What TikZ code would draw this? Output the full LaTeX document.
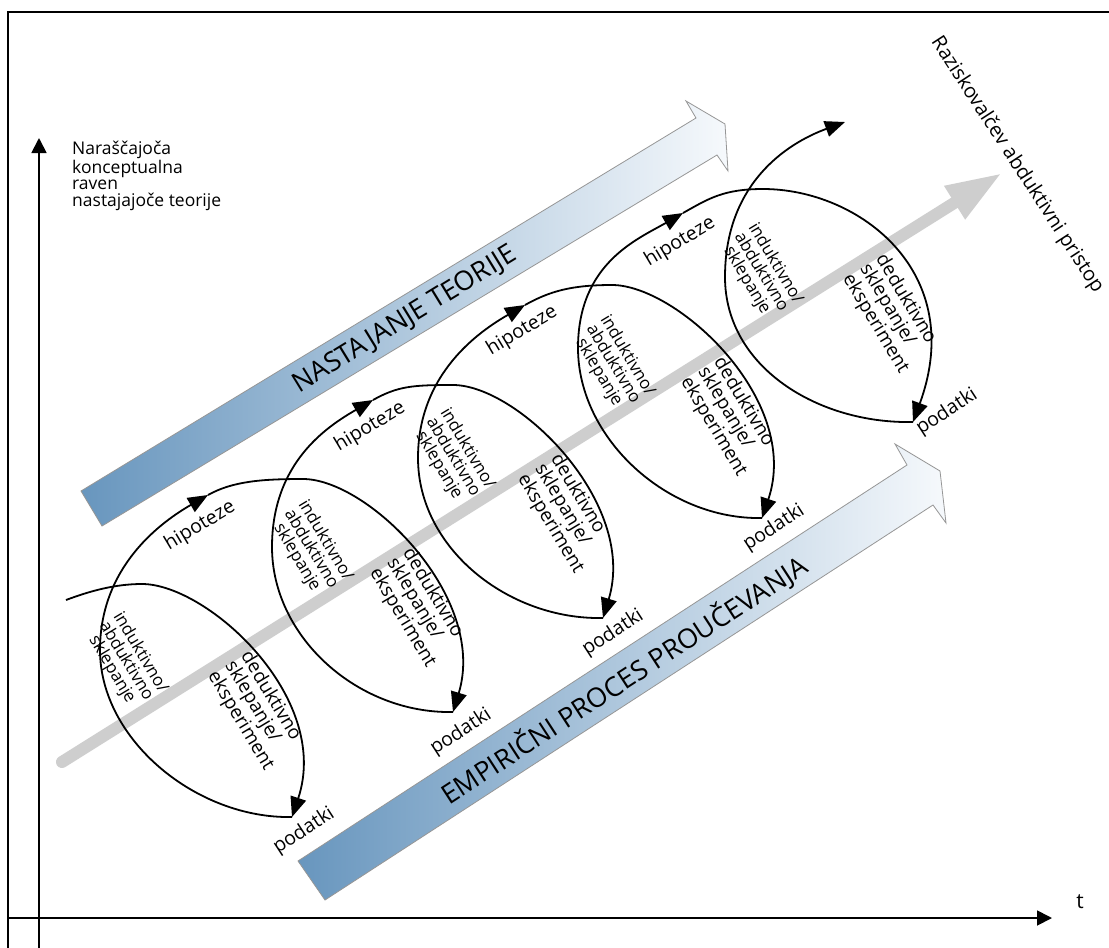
\documentclass[tikz,border=0pt]{standalone}
\usepackage{fontspec}
\setmainfont{Open Sans}
\usetikzlibrary{arrows.meta,calc}
\definecolor{bandblue}{RGB}{104,150,190}
\definecolor{bandlight}{RGB}{246,249,252}
\definecolor{bandedge}{RGB}{150,150,150}
\definecolor{spinegray}{RGB}{206,206,206}
\begin{document}
\begin{tikzpicture}[x=1pt,y=-1pt,
  flow/.style={line width=1.8pt, black},
  flowtip/.style={-{Triangle[length=20pt,width=16pt]}},
  axisline/.style={line width=1.8pt, -{Triangle[length=15pt,width=15pt]}},
  looptext/.style={inner sep=0pt, font=\fontsize{19.5}{19.5}\selectfont},
  indtext/.style={inner sep=0pt, align=center, rotate=-59, font=\fontsize{17}{16.5}\selectfont},
  dedtext/.style={inner sep=0pt, align=left, rotate=-59, font=\fontsize{19}{18.5}\selectfont},
  bandtext/.style={inner sep=0pt, font=\fontsize{27}{27}\selectfont},
  band/.style={left color=bandblue, right color=bandlight, draw=bandedge, line width=0.8pt},
]
\useasboundingbox (0,0) rectangle (1109,948);
\fill[white] (0,0) rectangle (1109,948);

% frame
\draw[line width=1.4pt] (8,948) -- (8,12) -- (1109,12);

% axes
\coordinate (yfoot) at (39,948);
\coordinate (ytip) at (39,138);
\coordinate (xfoot) at (8,918);
\coordinate (xtip) at (1052,918);
\draw[axisline] (yfoot) -- (ytip);
\draw[axisline] (xfoot) -- (xtip);
\node[inner sep=0pt, anchor=west, align=left, font=\fontsize{17.5}{16.8}\selectfont] (ylab) at (72,176)
  {Naraščajoča\\konceptualna\\raven\\nastajajoče teorije};
\node[inner sep=0pt, font=\fontsize{21}{21}\selectfont] (tlab) at (1080,902) {t};

% upper band: theory building
\coordinate (ta1) at (81,491);
\coordinate (tn1) at (696,118);
\coordinate (tb1) at (686,101);
\coordinate (tp)  at (725,124);
\coordinate (tb2) at (728,171);
\coordinate (tn2) at (717,155);
\coordinate (ta2) at (102,526);
\draw[band] (ta1) -- (tn1) -- (tb1) -- (tp) -- (tb2) -- (tn2) -- (ta2) -- cycle;
\node[bandtext, rotate=31.5] (nast) at (405,320) {NASTAJANJE TEORIJE};

% lower band: empirical process
\coordinate (ea1) at (298,861);
\coordinate (en1) at (907,465);
\coordinate (eb1) at (895,444);
\coordinate (ep)  at (940,471);
\coordinate (eb2) at (946,523);
\coordinate (en2) at (933,505);
\coordinate (ea2) at (325,900);
\draw[band] (ea1) -- (en1) -- (eb1) -- (ep) -- (eb2) -- (en2) -- (ea2) -- cycle;
\node[bandtext, rotate=33] (emp) at (624,680) {EMPIRIČNI PROCES PROUČEVANJA};

% grey spine: the researcher's abductive approach
\coordinate (gs) at (62,762);
\coordinate (ge) at (1002,173);
\draw[spinegray, line width=12pt, line cap=round, -{Triangle[length=56pt,width=36pt]}] (gs) -- (ge);
\node[inner sep=0pt, rotate=-57, font=\fontsize{20}{20}\selectfont] (rabd) at (1017,165)
  {Raziskovalčev abduktivni pristop};

% spiral key points: C = data cusp, T = top, L = leftmost, H = hypothesis tip
\coordinate (P0) at (66,600);
\coordinate (C1) at (292,817);
\coordinate (C2) at (453,712);
\coordinate (C3) at (603,618);
\coordinate (C4) at (762,518);
\coordinate (C5) at (913,422);
\foreach \k in {1,...,5} { \coordinate (T\k) at ($(C\k)+(-150,-233)$); }
\coordinate (L1) at ($(C1)+(-192,-167)$);
\coordinate (L2) at ($(C2)+(-181,-165)$);
\coordinate (L3) at ($(C3)+(-185,-160)$);
\coordinate (L4) at ($(C4)+(-184,-170)$);
\coordinate (L5) at ($(C5)+(-188,-145)$);
\coordinate (H1) at (208,495);
\coordinate (H2) at (373,400);
\coordinate (H3) at (525,305);
\coordinate (H4) at (683,213);
\coordinate (H5) at (845,122);

% descending (deductive) arcs
\draw[flow,flowtip] (P0) .. controls (90,591) and (115,584) .. (T1)
  .. controls ($(T1)+(65,0)$) and ($(C1)+(40,-120)$) .. (C1);
\draw[flow,flowtip] (H1) .. controls ($(H1)+(25,-14)$) and ($(T2)+(-40,0)$) .. (T2)
  .. controls ($(T2)+(65,0)$) and ($(C2)+(35,-115)$) .. (C2);
\draw[flow,flowtip] (H2) .. controls ($(H2)+(25,-14)$) and ($(T3)+(-40,0)$) .. (T3)
  .. controls ($(T3)+(65,0)$) and ($(C3)+(35,-115)$) .. (C3);
\draw[flow,flowtip] (H3) .. controls ($(H3)+(25,-14)$) and ($(T4)+(-40,0)$) .. (T4)
  .. controls ($(T4)+(65,0)$) and ($(C4)+(40,-118)$) .. (C4);
\draw[flow,flowtip] (H4) .. controls ($(H4)+(25,-14)$) and ($(T5)+(-40,0)$) .. (T5)
  .. controls ($(T5)+(96,0)$) and ($(C5)+(55,-150)$) .. (C5);

% ascending (inductive) arcs
\foreach \k in {1,...,4} {
  \draw[flow,flowtip] (C\k) .. controls ($(C\k)+(-95,2)$) and ($(L\k)+(0,90)$) .. (L\k)
    .. controls ($(L\k)+(0,-85)$) and ($(H\k)+(-45,26)$) .. (H\k);
}
\draw[flow,flowtip] (C5) .. controls ($(C5)+(-95,2)$) and ($(L5)+(0,90)$) .. (L5)
  .. controls ($(L5)+(0,-92)$) and ($(H5)+(-60,22)$) .. (H5);

% labels along the spiral
\node[looptext, rotate=31] (hyp1) at (200,526) {hipoteze};
\node[looptext, rotate=31] (hyp2) at (370,427) {hipoteze};
\node[looptext, rotate=31] (hyp3) at (522,331) {hipoteze};
\node[looptext, rotate=31] (hyp4) at (680,242) {hipoteze};

\node[indtext] (ind1) at (126,661) {induktivno/\\abduktivno\\sklepanje};
\node[indtext] (ind2) at (311,549) {induktivno/\\abduktivno\\sklepanje};
\node[indtext] (ind3) at (453,457) {induktivno/\\abduktivno\\sklepanje};
\node[indtext] (ind4) at (613,364) {induktivno/\\abduktivno\\sklepanje};
\node[indtext] (ind5) at (761,272) {induktivno/\\abduktivno\\sklepanje};

\node[dedtext] (ded1) at (257,711) {deduktivno\\sklepanje/\\eksperiment};
\node[dedtext] (ded2) at (419,608) {deduktivno\\sklepanje/\\eksperiment};
\node[dedtext] (ded3) at (567,514) {deuktivno\\sklepanje/\\eksperiment};
\node[dedtext] (ded4) at (730,417) {deduktivno\\sklepanje/\\eksperiment};
\node[dedtext] (ded5) at (892,314) {deduktivno\\sklepanje/\\eksperiment};

\node[looptext, rotate=33] (dat1) at (304,831) {podatki};
\node[looptext, rotate=33] (dat2) at (461,732) {podatki};
\node[looptext, rotate=33] (dat3) at (613,633) {podatki};
\node[looptext, rotate=33] (dat4) at (774,528) {podatki};
\node[looptext, rotate=33] (dat5) at (947,412) {podatki};
\end{tikzpicture}
\end{document}
